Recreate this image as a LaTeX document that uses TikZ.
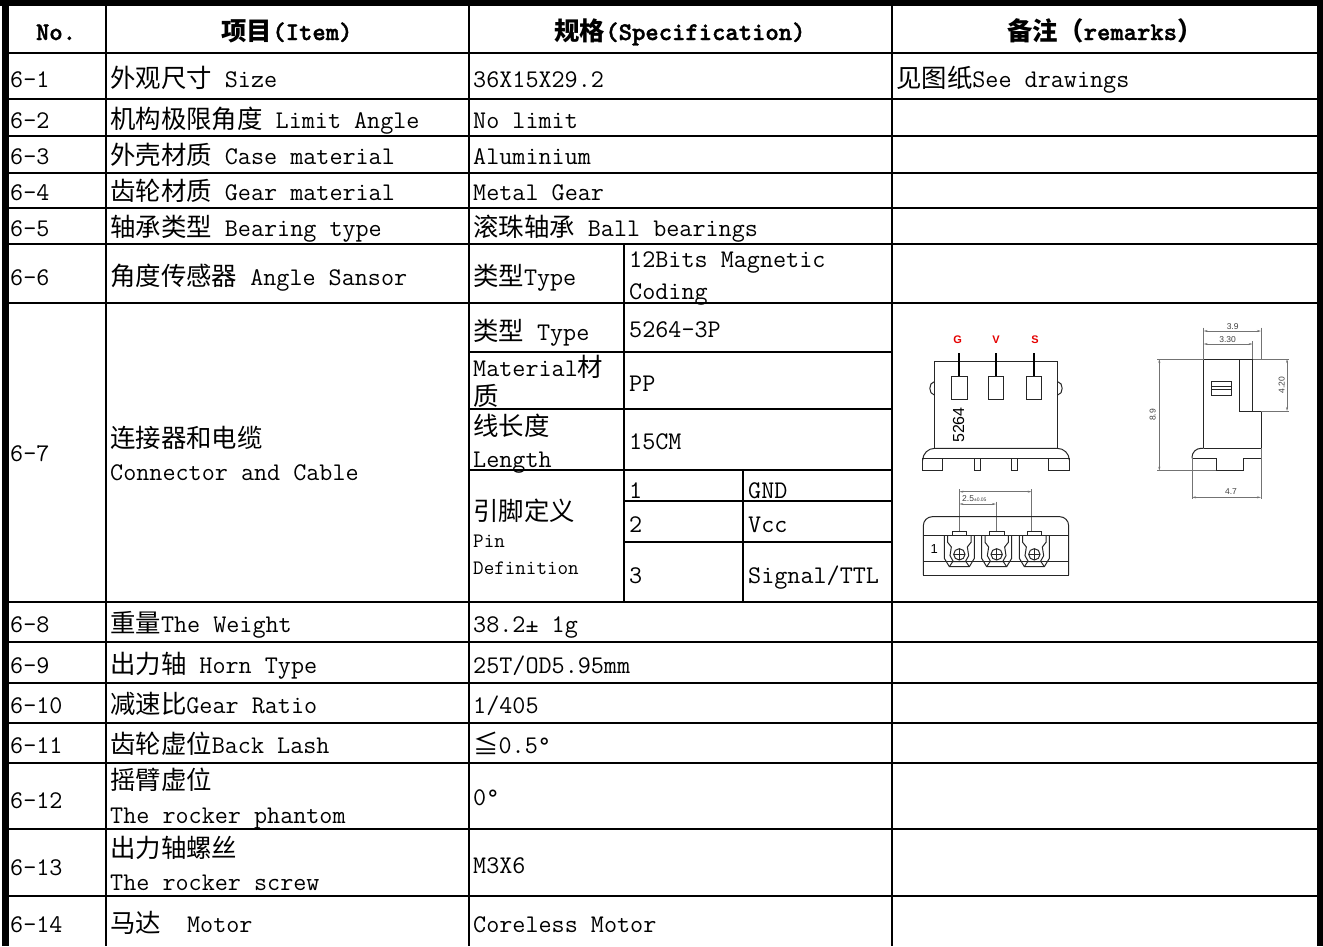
\documentclass[tikz,border=0pt]{standalone}
\usepackage{fontspec}
\setmainfont{Latin Modern Mono}
\newfontfamily\monob[Extension=.otf,FakeBold=1.6]{lmmonolt10-bold}
\newfontfamily\cjk{Noto Sans CJK SC}
\newfontfamily\dsans{Liberation Sans}
\usetikzlibrary{arrows.meta}
\newcommand{\zhtext}[1]{{\cjk #1}}
\begin{document}
\begin{tikzpicture}[x=1pt,y=-1pt,
  font=\fontsize{25.4}{30}\selectfont,
  txt/.style={anchor=base west,inner sep=0pt},
  hdr/.style={anchor=base,inner sep=0pt,font=\fontsize{25.4}{30}\selectfont\monob},
  small/.style={anchor=base west,inner sep=0pt,font=\fontsize{20.5}{24}\selectfont},
  gridline/.style={line width=2.5pt,black},
  body/.style={line width=1pt,black!85},
  dimline/.style={line width=0.5pt,black!55},
  dimarrow/.style={dimline,{Stealth[length=4pt,width=2pt]}-{Stealth[length=4pt,width=2pt]}},
  dimlabel/.style={inner sep=0pt,font=\dsans\fontsize{8.5}{9}\selectfont,text=black!75}]
\useasboundingbox (0,0) rectangle (1323,946);
\fill[white] (0,0) rectangle (1323,946);

% ---------- grid ----------
\foreach \yy in {53,99,136,173,208,244,303,602,642,683,723,763,829,896}
  \draw[gridline] (6,\yy) -- (1318,\yy);
\foreach \xx in {106,469,892}
  \draw[gridline] (\xx,4) -- (\xx,946);
\draw[gridline] (624,244) -- (624,602);
\draw[gridline] (743,470) -- (743,602);
\foreach \yy in {352,409,470}
  \draw[gridline] (469,\yy) -- (892,\yy);
\foreach \yy in {501,542}
  \draw[gridline] (624,\yy) -- (892,\yy);
% outer border
\fill[black] (0,0) rectangle (1323,6);
\fill[black] (2,0) rectangle (9,946);
\fill[black] (1317,0) rectangle (1323,946);

% ---------- header ----------
\node[hdr] (h1) at (56,40) {No.};
\node[hdr] (h2) at (287,40) {\zhtext{\bfseries 项目}(Item)};
\node[hdr] (h3) at (680,40) {\zhtext{\bfseries 规格}(Specification)};
\node[hdr] (h4) at (1105,40) {\zhtext{\bfseries 备注（}remarks\zhtext{\bfseries ）}};

% ---------- No. column ----------
\node[txt] (n1) at (10,87) {6-1};
\node[txt] (n2) at (10,128) {6-2};
\node[txt] (n3) at (10,164) {6-3};
\node[txt] (n4) at (10,200) {6-4};
\node[txt] (n5) at (10,236) {6-5};
\node[txt] (n6) at (10,285) {6-6};
\node[txt] (n7) at (10,461) {6-7};
\node[txt] (n8) at (10,632) {6-8};
\node[txt] (n9) at (10,673) {6-9};
\node[txt] (n10) at (10,713) {6-10};
\node[txt] (n11) at (10,753) {6-11};
\node[txt] (n12) at (10,808) {6-12};
\node[txt] (n13) at (10,875) {6-13};
\node[txt] (n14) at (10,932) {6-14};

% ---------- Item column ----------
\node[txt] (i1) at (110,87) {\zhtext{外观尺寸} Size};
\node[txt] (i2) at (110,128) {\zhtext{机构极限角度} Limit Angle};
\node[txt] (i3) at (110,164) {\zhtext{外壳材质} Case material};
\node[txt] (i4) at (110,200) {\zhtext{齿轮材质} Gear material};
\node[txt] (i5) at (110,236) {\zhtext{轴承类型} Bearing type};
\node[txt] (i6) at (110,285) {\zhtext{角度传感器} Angle Sansor};
\node[txt] (i7a) at (110,447) {\zhtext{连接器和电缆}};
\node[txt] (i7b) at (110,480) {Connector and Cable};
\node[txt] (i8) at (110,632) {\zhtext{重量}The Weight};
\node[txt] (i9) at (110,673) {\zhtext{出力轴} Horn Type};
\node[txt] (i10) at (110,713) {\zhtext{减速比}Gear Ratio};
\node[txt] (i11) at (110,753) {\zhtext{齿轮虚位}Back Lash};
\node[txt] (i12a) at (110,789) {\zhtext{摇臂虚位}};
\node[txt] (i12b) at (110,823) {The rocker phantom};
\node[txt] (i13a) at (110,857) {\zhtext{出力轴螺丝}};
\node[txt] (i13b) at (110,890) {The rocker screw};
\node[txt] (i14) at (110,932) {\zhtext{马达}~~Motor};

% ---------- Specification column ----------
\node[txt] (s1) at (473,87) {36X15X29.2};
\node[txt] (s2) at (473,128) {No limit};
\node[txt] (s3) at (473,164) {Aluminium};
\node[txt] (s4) at (473,200) {Metal Gear};
\node[txt] (s5) at (473,236) {\zhtext{滚珠轴承} Ball bearings};
\node[txt] (s6a) at (473,285) {\zhtext{类型}Type};
\node[txt] (s6b) at (629,267) {12Bits Magnetic};
\node[txt] (s6c) at (629,299) {Coding};
\node[txt] (s7a) at (473,340) {\zhtext{类型} Type};
\node[txt] (s7b) at (629,337) {5264-3P};
\node[txt] (s7c) at (473,376) {Material\zhtext{材}};
\node[txt] (s7d) at (473,405) {\zhtext{质}};
\node[txt] (s7e) at (629,391) {PP};
\node[txt] (s7f) at (473,435) {\zhtext{线长度}};
\node[txt] (s7g) at (473,467) {Length};
\node[txt] (s7h) at (629,449) {15CM};
\node[txt] (s7i) at (473,520) {\zhtext{引脚定义}};
\node[small] (s7j) at (473,547) {Pin};
\node[small] (s7k) at (473,574) {Definition};
\node[txt] (p1) at (629,498) {1};
\node[txt] (p1n) at (748,498) {GND};
\node[txt] (p2) at (629,532) {2};
\node[txt] (p2n) at (748,532) {Vcc};
\node[txt] (p3) at (629,583) {3};
\node[txt] (p3n) at (748,583) {Signal/TTL};
\node[txt] (s8) at (473,632) {38.2± 1g};
\node[txt] (s9) at (473,673) {25T/OD5.95mm};
\node[txt] (s10) at (473,713) {1/405};
\node[txt] (s11) at (473,753) {\zhtext{≦}0.5°};
\node[txt] (s12) at (473,805) {0°};
\node[txt] (s13) at (473,873) {M3X6};
\node[txt] (s14) at (473,932) {Coreless Motor};

% ---------- Remarks ----------
\node[txt] (r1) at (896,87) {\zhtext{见图纸}See drawings};

% ---------- connector drawings ----------
\begin{scope}[shift={(891pt,-305pt)},x=0.33333pt,y=-0.33333pt]
  % front view
  \foreach \cx/\lab in {200/G,315/V,432/S}
    \node[inner sep=0pt,font=\dsans\bfseries\fontsize{11}{12}\selectfont,text=red!90!black] at (\cx,105) {\lab};
  \draw[body] (130,168) rectangle (500,430);
  \foreach \cx in {203,315,430}
    \draw[line width=2pt,black] (\cx,145) -- (\cx,215);
  \draw[body] (180,215) rectangle (228,283);
  \draw[body] (292,215) rectangle (338,283);
  \draw[body] (405,215) rectangle (452,283);
  \draw[body] (130,230) .. controls (112,232) and (112,268) .. (130,270);
  \draw[body] (500,230) .. controls (518,232) and (518,268) .. (500,270);
  \node[inner sep=0pt,rotate=90,font=\dsans\fontsize{16}{17}\selectfont] at (203,360) {5264};
  \draw[body,rounded corners=12pt] (95,460) -- (95,430) -- (535,430) -- (535,460);
  \draw[body] (95,460) -- (535,460);
  \draw[body] (95,460) rectangle (155,497);
  \draw[body] (250,460) rectangle (267,497);
  \draw[body] (362,460) rectangle (380,497);
  \draw[body] (473,460) rectangle (535,497);
  % bottom view
  \draw[dimarrow] (205,560) -- (422,560);
  \draw[dimarrow] (205,597) -- (315,597);
  \draw[dimline] (205,552) -- (205,680);
  \draw[dimline] (315,590) -- (315,680);
  \draw[dimline] (422,552) -- (422,680);
  \node[dimlabel,anchor=base west] at (213,590) {2.5{\fontsize{5}{5}\selectfont ±0.05}};
  \draw[body,rounded corners=9pt] (97,810) -- (97,635) -- (533,635) -- (533,810);
  \draw[body] (97,810) -- (533,810);
  \draw[body] (97,690) -- (533,690);
  \draw[body] (97,770) -- (533,770);
  \node[inner sep=0pt,font=\dsans\fontsize{13}{14}\selectfont] at (130,733) {1};
  \foreach \cx in {205,317,430} {
    \draw[body] (\cx-22,692) rectangle (\cx+22,678);
    \draw[body] (\cx-45,690) -- (\cx-45,760) -- (\cx-30,785) -- (\cx+30,785) -- (\cx+45,760) -- (\cx+45,690);
    \draw[body] (\cx-35,692) -- (\cx-35,712) -- (\cx-24,726) -- (\cx-28,752) -- (\cx-18,770) -- (\cx+18,770) -- (\cx+28,752) -- (\cx+24,726) -- (\cx+35,712) -- (\cx+35,692);
    \draw[body] (\cx-30,785) -- (\cx-20,770);
    \draw[body] (\cx+30,785) -- (\cx+20,770);
    \draw[body] (\cx,748) circle[radius=17];
    \draw[body,line width=0.5pt] (\cx-17,748) -- (\cx+17,748);
    \draw[body,line width=0.5pt] (\cx,731) -- (\cx,765);
  }
  % side view
  \draw[body] (938,430) -- (938,162) -- (1045,162);
  \draw[body] (1045,162) rectangle (1085,318);
  \draw[body] (1085,318) -- (1110,318) -- (1110,430);
  \draw[body] (938,430) -- (1110,430);
  \draw[body] (962,228) rectangle (1020,270);
  \draw[body] (962,244) -- (1020,244);
  \draw[body] (962,254) -- (1020,254);
  \draw[body,rounded corners=9pt] (938,430) -- (903,430) -- (903,460);
  \draw[body] (903,460) -- (975,460) -- (975,497) -- (1058,497) -- (1058,460) -- (1110,460) -- (1110,430);
  % dimensions
  \draw[dimarrow] (938,78) -- (1110,78);
  \draw[dimline] (938,68) -- (938,162);
  \draw[dimline] (1110,68) -- (1110,162);
  \node[dimlabel] at (1025,64) {3.9};
  \draw[dimarrow] (938,117) -- (1085,117);
  \draw[dimline] (1085,108) -- (1085,162);
  \node[dimlabel] at (1010,103) {3.30};
  \draw[dimarrow] (805,162) -- (805,497);
  \draw[dimline] (798,162) -- (938,162);
  \draw[dimline] (798,497) -- (975,497);
  \node[dimlabel,rotate=90] at (785,330) {8.9};
  \draw[dimarrow] (1188,162) -- (1188,318);
  \draw[dimline] (1085,162) -- (1195,162);
  \draw[dimline] (1110,318) -- (1195,318);
  \node[dimlabel,rotate=90] at (1172,240) {4.20};
  \draw[dimarrow] (903,577) -- (1110,577);
  \draw[dimline] (903,460) -- (903,582);
  \draw[dimline] (1110,430) -- (1110,582);
  \node[dimlabel] at (1020,561) {4.7};
\end{scope}
\end{tikzpicture}
\end{document}
